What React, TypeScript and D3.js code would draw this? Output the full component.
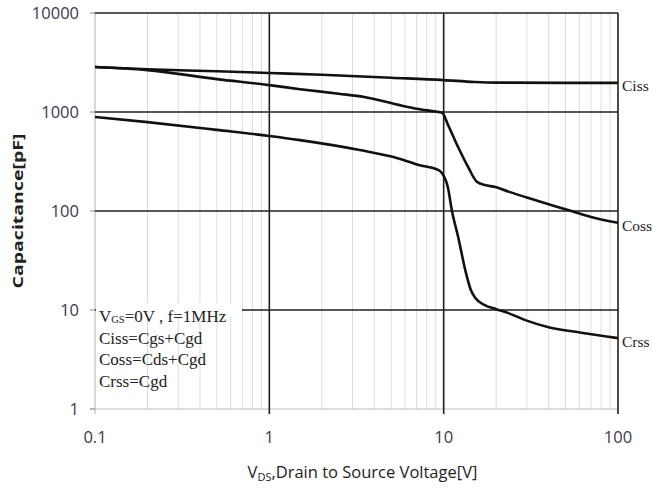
import React from 'react';
import { select, scaleLog, line, curveMonotoneX, range } from 'd3';

// V_DS sample points (V) and capacitance (pF)
const cissVds = [0.1, 0.2, 0.5, 1, 2, 5, 10, 15, 20, 50, 100];
const cissCap = [2850, 2700, 2580, 2480, 2380, 2220, 2100, 2010, 1980, 1970, 1970];

const cossVds = [0.1, 0.2, 0.5, 1, 1.5, 2.5, 3.5, 5.5, 7, 9, 9.8, 10.6, 12.1, 13.9, 15.5, 17.2, 19.8, 23.5, 30, 45, 54, 70, 100];
const cossCap = [2850, 2650, 2150, 1870, 1700, 1530, 1420, 1180, 1080, 1010, 985, 740, 443, 272, 197, 183, 175, 157, 137, 110, 100, 87, 76];

const crssVds = [0.1, 0.2, 0.5, 1, 1.5, 3.3, 5.5, 7.2, 9.3, 9.8, 10.6, 11.1, 12.1, 13.4, 14.3, 15.2, 17.2, 20, 23.5, 29.4, 40, 61.5, 100];
const crssCap = [890, 790, 660, 573, 520, 413, 340, 292, 260, 240, 170, 105, 55, 24, 16, 13.2, 11.2, 10.2, 9.3, 7.9, 6.7, 5.9, 5.2];

const seriesNames = ['Ciss', 'Coss', 'Crss'];
const xTicks = [0.1, 1, 10, 100];
const xTickLabels = ['0.1', '1', '10', '100'];
const yTicks = [1, 10, 100, 1000, 10000];
const yTickLabels = ['1', '10', '100', '1000', '10000'];
const noteLines = ['Ciss=Cgs+Cgd', 'Coss=Cds+Cgd', 'Crss=Cgd'];

interface Pt { v: number; c: number; }

const dims = {
  width: 653,
  height: 489,
  left: 95,
  right: 618,
  top: 13,
  bottom: 409,
};

const CapChart: React.FC = () => {
  const svgRef = React.useRef<SVGSVGElement>(null);

  React.useEffect(() => {
    const svg = select(svgRef.current);
    svg.selectAll('*').remove();

    const x = scaleLog().domain([0.1, 100]).range([dims.left, dims.right]);
    const y = scaleLog().domain([1, 10000]).range([dims.bottom, dims.top]);

    const grid = svg.append('g');
    // minor vertical grid
    const minors: number[] = [];
    [0.1, 1, 10].forEach(d => range(2, 10).forEach(k => minors.push(d * k)));
    grid.selectAll('line.minor')
      .data(minors)
      .join('line')
      .attr('x1', d => x(d)).attr('x2', d => x(d))
      .attr('y1', dims.top).attr('y2', dims.bottom)
      .attr('stroke', '#dcdcdc').attr('stroke-width', 1);

    // axis lines (light)
    grid.append('line')
      .attr('x1', dims.left).attr('x2', dims.left)
      .attr('y1', dims.top).attr('y2', dims.bottom + 5)
      .attr('stroke', '#bdbdbd').attr('stroke-width', 1.2);
    grid.append('line')
      .attr('x1', dims.left - 5).attr('x2', dims.right)
      .attr('y1', y(1)).attr('y2', y(1))
      .attr('stroke', '#bdbdbd').attr('stroke-width', 1.2);

    // major grid (dark)
    grid.selectAll('line.hmaj')
      .data(yTicks.slice(1))
      .join('line')
      .attr('x1', dims.left).attr('x2', dims.right)
      .attr('y1', d => y(d)).attr('y2', d => y(d))
      .attr('stroke', '#1e1e1e').attr('stroke-width', 1.6);
    grid.selectAll('line.vmaj')
      .data(xTicks.slice(1))
      .join('line')
      .attr('x1', d => x(d)).attr('x2', d => x(d))
      .attr('y1', dims.top).attr('y2', dims.bottom + 5)
      .attr('stroke', '#1e1e1e').attr('stroke-width', 1.6);
    // left tick marks
    grid.selectAll('line.ytick')
      .data(yTicks)
      .join('line')
      .attr('x1', dims.left - 5).attr('x2', dims.left)
      .attr('y1', d => y(d)).attr('y2', d => y(d))
      .attr('stroke', '#9a9a9a').attr('stroke-width', 1.2);

    // tick labels
    svg.append('g')
      .selectAll('text')
      .data(yTicks)
      .join('text')
      .attr('x', 79)
      .attr('y', d => y(d))
      .attr('dy', '0.35em')
      .attr('text-anchor', 'end')
      .attr('font-family', 'Open Sans, sans-serif')
      .attr('font-size', 16.5)
      .attr('fill', '#3a3a4a')
      .text((d, i) => yTickLabels[i]);
    svg.append('g')
      .selectAll('text')
      .data(xTicks)
      .join('text')
      .attr('x', d => x(d))
      .attr('y', 437)
      .attr('dy', '0.35em')
      .attr('text-anchor', 'middle')
      .attr('font-family', 'Open Sans, sans-serif')
      .attr('font-size', 16.5)
      .attr('fill', '#3a3a4a')
      .text((d, i) => xTickLabels[i]);

    // axis titles
    const xt = svg.append('text')
      .attr('x', (dims.left + dims.right) / 2 + 6)
      .attr('y', 478)
      .attr('text-anchor', 'middle')
      .attr('font-family', 'Open Sans, sans-serif')
      .attr('font-size', 16.5)
      .attr('fill', '#222');
    xt.append('tspan').text('V');
    xt.append('tspan').attr('font-size', 11).attr('dy', 3).text('DS');
    xt.append('tspan').attr('dy', -3).text(',Drain to Source Voltage[V]');

    svg.append('text')
      .attr('transform', `translate(23, ${(dims.top + dims.bottom) / 2}) rotate(-90)`)
      .attr('text-anchor', 'middle')
      .attr('font-family', 'Open Sans, sans-serif')
      .attr('font-weight', 'bold')
      .attr('font-size', 15)
      .attr('textLength', 155)
      .attr('lengthAdjust', 'spacingAndGlyphs')
      .attr('fill', '#222')
      .text('Capacitance[pF]');

    // note box
    svg.append('rect')
      .attr('x', dims.left + 1).attr('y', y(10) - 7)
      .attr('width', 146).attr('height', 14)
      .attr('fill', '#fff');
    const note = svg.append('g')
      .attr('font-family', 'Liberation Serif, Times New Roman, serif')
      .attr('font-size', 17)
      .attr('fill', '#222');
    const first = note.append('text').attr('x', 99).attr('y', 322);
    first.append('tspan').text('V');
    first.append('tspan').attr('font-size', 10.5).attr('dy', 1).text('GS');
    first.append('tspan').attr('dy', -1).text('=0V , f=1MHz');
    note.selectAll('text.l')
      .data(noteLines)
      .join('text')
      .attr('x', 99)
      .attr('y', (d, i) => 343.5 + i * 21.5)
      .text(d => d);

    // curves
    const series: Pt[][] = [
      cissVds.map((v, i) => ({ v, c: cissCap[i] })),
      cossVds.map((v, i) => ({ v, c: cossCap[i] })),
      crssVds.map((v, i) => ({ v, c: crssCap[i] })),
    ];
    const capLine = line<Pt>()
      .x(d => x(d.v))
      .y(d => y(d.c))
      .curve(curveMonotoneX);
    svg.append('g')
      .selectAll('path')
      .data(series)
      .join('path')
      .attr('d', d => capLine(d))
      .attr('fill', 'none')
      .attr('stroke', '#111')
      .attr('stroke-width', 2.6)
      .attr('stroke-linejoin', 'round');

    svg.append('g')
      .selectAll('text')
      .data(series)
      .join('text')
      .attr('x', dims.right + 4)
      .attr('y', d => y(d[d.length - 1].c) + 3)
      .attr('dy', '0.35em')
      .attr('font-family', 'Liberation Serif, Times New Roman, serif')
      .attr('font-size', 15.5)
      .attr('fill', '#222')
      .text((d, i) => seriesNames[i]);
  }, []);

  return (
    <svg
      ref={svgRef}
      width={dims.width}
      height={dims.height}
      style={{ position: 'absolute', left: 0, top: 0, display: 'block', background: '#fff' }}
    />
  );
};

export default function App() {
  return <CapChart />;
}
